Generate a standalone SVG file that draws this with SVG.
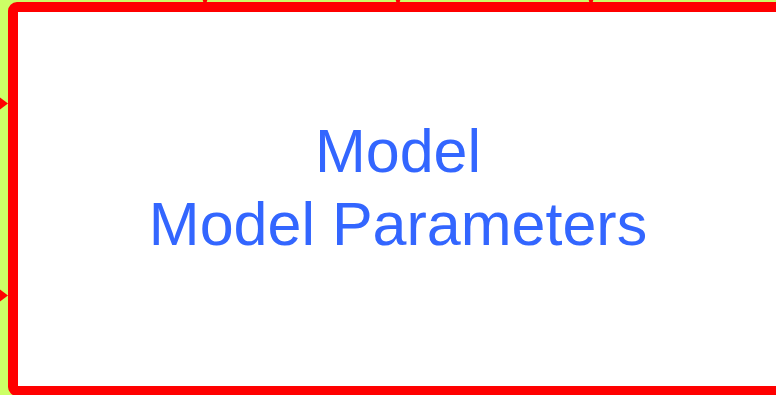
<svg xmlns="http://www.w3.org/2000/svg" width="776" height="395" viewBox="0 0 776 395">
<style>
.bg{fill:#ccff66}
.box{fill:#ffffff;stroke:#ff0000;stroke-width:10}
.lbl{font-family:"Liberation Sans",Arial,sans-serif;font-size:61px;fill:#3366ff;text-anchor:middle}
.arr{fill:#ff0000}
</style>
<rect class="bg" x="0" y="0" width="776" height="395"/>
<g id="connectors">
<polygon class="arr" points="-2,96 8,103.5 -2,111"/>
<polygon class="arr" points="-2,288 8,295.5 -2,303"/>
<polygon class="arr" points="201,-6 209,-6 205,8"/>
<polygon class="arr" points="394,-6 402,-6 398,8"/>
<polygon class="arr" points="587,-6 595,-6 591,8"/>
</g>
<g id="model">
<rect class="box" x="13" y="7" width="800" height="384" rx="4"/>
<text class="lbl" x="398" y="172">Model</text>
<text class="lbl" x="398" y="245">Model Parameters</text>
</g>
</svg>
